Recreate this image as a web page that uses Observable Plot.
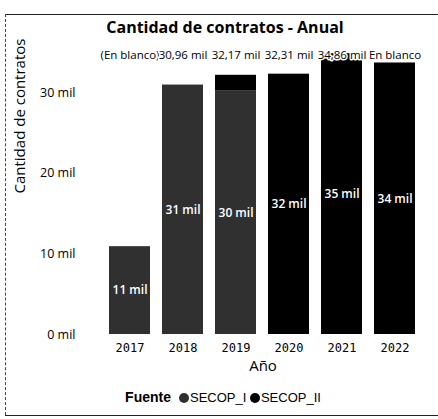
<!DOCTYPE html>
<html>
<head>
<meta charset="utf-8">
<script src="https://cdn.jsdelivr.net/npm/d3@7"></script>
<script src="https://cdn.jsdelivr.net/npm/@observablehq/plot@0.6"></script>
<style>
  html, body { margin: 0; padding: 0; background: #fff; }
  #wrap { position: relative; width: 438px; height: 419px; overflow: hidden; background: #fff; }
  #wrap svg { position: absolute; left: 0; top: 0; }
  .border-top { position: absolute; left: 5px; top: 14px; width: 433px; height: 0; border-top: 1px solid #222; }
  .border-bottom { position: absolute; left: 5px; top: 415px; width: 433px; height: 0; border-top: 1px solid #222; }
  .border-left { position: absolute; left: 5px; top: 14px; width: 0; height: 401px; border-left: 1px dashed #444; }
  #title { position: absolute; left: 0; width: 450px; top: 16px; text-align: center;
           font-family: "Open Sans", sans-serif; font-weight: 700; font-size: 16px; color: #000; }
  #legend { position: absolute; left: 0; width: 446px; top: 389px; text-align: center;
            font-family: "Liberation Sans", sans-serif; font-size: 13px; color: #000; white-space: nowrap; }
  #legend b { font-size: 14px; margin-right: 8px; }
  #legend .dot { display: inline-block; width: 10px; height: 10px; border-radius: 50%; margin-right: 1px; vertical-align: -1px; }
</style>
</head>
<body>
<div id="wrap">
  <div class="border-top"></div>
  <div class="border-bottom"></div>
  <div class="border-left"></div>
  <div id="title"></div>
  <div id="legend"></div>
</div>
<script>
const years = ["2017", "2018", "2019", "2020", "2021", "2022"];
const secopI = [10.9, 30.96, 30.2, 0, 0, 0];
const secopII = [0, 0, 1.97, 32.31, 34.86, 33.7];
const totalLabels = ["(En blanco)", "30,96 mil", "32,17 mil", "32,31 mil", "34,86 mil", "En blanco"];
const series = ["SECOP_I", "SECOP_II"];
const seriesColors = ["#303030", "#000000"];
const yTicks = [0, 10, 20, 30];
const titleText = "Cantidad de contratos - Anual";
const yLabel = "Cantidad de contratos";
const xLabel = "Año";
const legendTitle = "Fuente";

const data = years.flatMap((y, i) => [
  {year: y, fuente: series[0], value: secopI[i]},
  {year: y, fuente: series[1], value: secopII[i]}
]);

const chart = Plot.plot({
  width: 438,
  height: 419,
  marginTop: 52,
  marginBottom: 85,
  marginLeft: 95,
  marginRight: 8,
  style: {fontFamily: "Open Sans, sans-serif", background: "transparent", color: "#000"},
  x: {domain: years, padding: 0.22, label: null},
  y: {domain: [0, 35], label: null},
  color: {domain: series, range: seriesColors},
  marks: [
    Plot.barY(data, {x: "year", y: "value", fill: "fuente"}),
    Plot.text(data, Plot.stackY({
      x: "year", y: "value", z: "fuente",
      text: d => d.value >= 5 ? Math.round(d.value) + " mil" : "",
      fill: "white", fontSize: 12, fontWeight: 600
    })),
    Plot.text(totalLabels, {
      x: (d, i) => years[i], text: d => d, frameAnchor: "top", dy: -2,
      fontSize: 11.5, fill: "#000", stroke: "white", strokeWidth: 3
    }),
    Plot.axisY({ticks: yTicks, tickFormat: d => d + " mil", tickSize: 0, tickPadding: 20, fontSize: 12.5, label: null}),
    Plot.axisX({tickSize: 0, tickPadding: 9, fontSize: 12, fontFamily: "DejaVu Sans Mono, monospace", label: null}),
    Plot.text([yLabel], {frameAnchor: "left", rotate: -90, dx: -75, fontSize: 15, text: d => d}),
    Plot.text([xLabel], {frameAnchor: "bottom", dy: 36, fontSize: 15, text: d => d})
  ]
});
const wrap = document.getElementById("wrap");
wrap.insertBefore(chart, wrap.firstChild);

document.getElementById("title").textContent = titleText;
const legend = document.getElementById("legend");
const b = document.createElement("b");
b.textContent = legendTitle;
legend.appendChild(b);
series.forEach((s, i) => {
  const dot = document.createElement("span");
  dot.className = "dot";
  dot.style.background = seriesColors[i];
  legend.appendChild(dot);
  legend.appendChild(document.createTextNode(s + (i < series.length - 1 ? " " : "")));
});
</script>
</body>
</html>
